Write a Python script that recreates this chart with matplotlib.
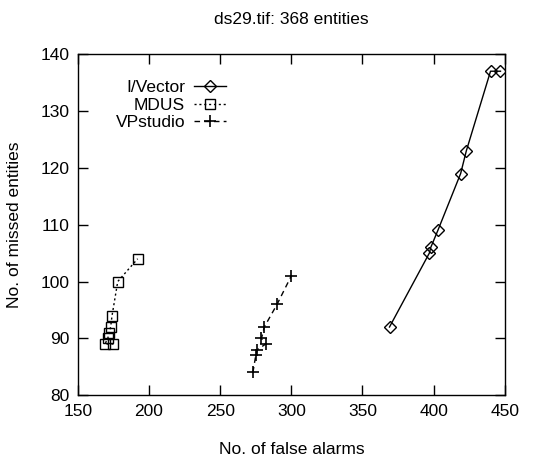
import matplotlib
matplotlib.use("Agg")
import matplotlib.pyplot as plt

# data
ivector_fa = [369, 397, 398, 403, 419, 423, 440, 447]
ivector_miss = [92, 105, 106, 109, 119, 123, 137, 137]

mdus_fa = [175, 169, 171, 172, 173, 174, 178, 192]
mdus_miss = [89, 89, 90, 91, 92, 94, 100, 104]

vp_fa = [273, 275, 276, 282, 279, 281, 290, 300]
vp_miss = [84, 87, 88, 89, 90, 92, 96, 101]

xticks = [150, 200, 250, 300, 350, 400, 450]
yticks = [80, 90, 100, 110, 120, 130, 140]

plt.rcParams["font.family"] = ["Liberation Sans", "DejaVu Sans"]
fs = 12.5

fig = plt.figure(figsize=(5.41, 4.59), dpi=100)
ax = fig.add_axes([0.144, 0.139, 0.789, 0.743])

ax.plot(ivector_fa, ivector_miss, color="black", lw=1.0, ls="-",
        marker="D", markersize=6, markerfacecolor="none",
        markeredgecolor="black", markeredgewidth=1.0, label="I/Vector")
ax.plot(mdus_fa, mdus_miss, color="black", lw=1.0, ls=(0, (1.5, 2)),
        marker="s", markersize=7.5, markerfacecolor="none",
        markeredgecolor="black", markeredgewidth=1.0, label="MDUS")
ax.plot(vp_fa, vp_miss, color="black", lw=1.0, ls=(0, (4, 3)),
        marker="+", markersize=9, markeredgewidth=1.2,
        markeredgecolor="black", label="VPstudio")

ax.set_xlim(150, 450)
ax.set_ylim(80, 140)
ax.set_xticks(xticks)
ax.set_yticks(yticks)
ax.tick_params(direction="in", length=7, width=1.0, top=True, right=True,
               labelsize=fs)
ax.tick_params(axis="x", pad=6)
ax.tick_params(axis="y", pad=6)
for s in ax.spines.values():
    s.set_linewidth(1.0)

ax.set_title("ds29.tif: 368 entities", fontsize=fs, pad=22)

ax.set_xlabel("No. of false alarms", fontsize=fs, va="center")
ax.xaxis.set_label_coords(0.5, -0.158)
ax.set_ylabel("No. of missed entities", fontsize=fs, va="center")
ax.yaxis.set_label_coords(-0.1475, 0.5)

ax.legend(loc="upper right", bbox_to_anchor=(0.3466, 0.924), frameon=False,
          markerfirst=False, handlelength=1.85, handletextpad=0.5,
          labelspacing=0.14, fontsize=fs, borderpad=0, borderaxespad=0)

fig.savefig("out.png", dpi=100)
